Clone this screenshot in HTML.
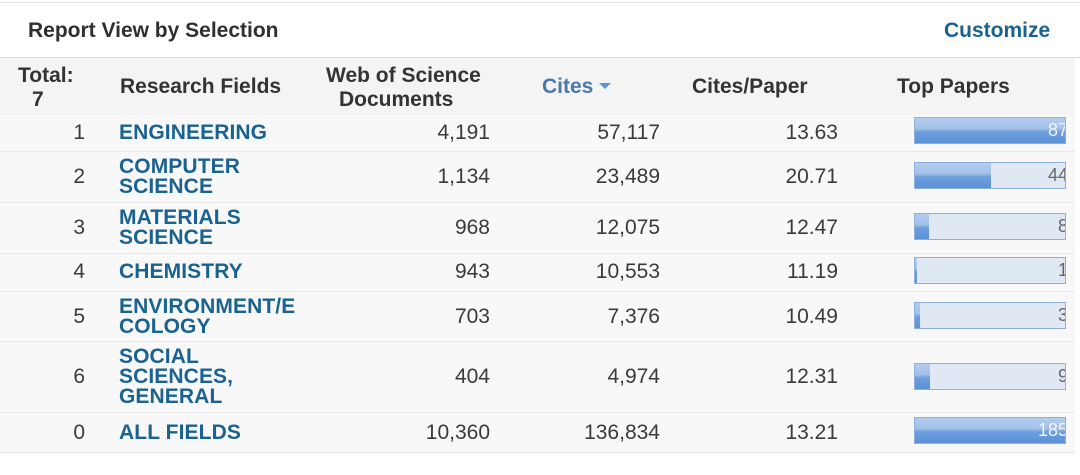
<!DOCTYPE html>
<html>
<head>
<meta charset="utf-8">
<style>
  html,body{margin:0;padding:0;}
  body{width:1080px;height:475px;position:relative;background:#fff;overflow:hidden;
       font-family:"Liberation Sans",Arial,sans-serif;color:#333;}
  .abs{position:absolute;white-space:nowrap;}
  .hd{font-weight:bold;font-size:21px;line-height:24px;color:#333;}
  .f{font-weight:bold;font-size:21px;line-height:20px;color:#1a6290;left:119px;letter-spacing:0.1px;}
  .n{font-size:21px;line-height:20px;color:#3a3a3a;text-align:right;}
  .line{position:absolute;left:0;height:1px;background:#e8e8e8;width:1075px;}
  .bar{position:absolute;left:914px;width:152px;height:27px;box-sizing:border-box;
       border:1px solid #8db0dd;background:#dfe8f3;overflow:hidden;}
  .fill{position:absolute;left:0;top:0;bottom:0;
        background:linear-gradient(#b3cdee 0%,#a3c1e9 42%,#6e9fde 55%,#5b91d7 100%);}
  .bn{position:absolute;right:-3px;top:0;line-height:25px;font-size:18px;color:#666;}
  .bn.w{color:#f2f6fc;}
</style>
</head>
<body>
  <!-- top border -->
  <div class="abs" style="left:0;top:2px;width:1080px;height:1px;background:#e3e3e3;"></div>
  <!-- title -->
  <div class="abs" style="left:28px;top:19px;font-size:21px;line-height:24px;font-weight:bold;color:#2f2f2f;">Report View by Selection</div>
  <div class="abs" style="left:944px;top:19px;font-size:21px;line-height:24px;font-weight:bold;color:#1a6290;">Customize</div>
  <div class="abs" style="left:0;top:57px;width:1080px;height:1px;background:#dadada;"></div>

  <!-- header bg -->
  <div class="abs" style="left:0;top:58px;width:1075px;height:57px;background:#f4f4f4;"></div>
  <!-- rows bg -->
  <div class="abs" style="left:0;top:115px;width:1075px;height:338px;background:#f8f8f8;"></div>

  <!-- header text -->
  <div class="abs hd" style="left:18px;top:64px;">Total:</div>
  <div class="abs hd" style="left:32px;top:88px;">7</div>
  <div class="abs hd" style="left:120px;top:75px;">Research Fields</div>
  <div class="abs hd" style="left:326px;top:64px;">Web of Science</div>
  <div class="abs hd" style="left:339px;top:88px;">Documents</div>
  <div class="abs hd" style="left:542px;top:75px;color:#4a79ab;">Cites</div>
  <div class="abs" style="left:599px;top:83px;width:0;height:0;border-left:6px solid transparent;border-right:6px solid transparent;border-top:6px solid #5f94d2;"></div>
  <div class="abs hd" style="left:692px;top:75px;">Cites/Paper</div>
  <div class="abs hd" style="left:897px;top:75px;">Top Papers</div>

  <!-- row lines -->
  <div class="line" style="top:151px;"></div>
  <div class="line" style="top:202px;"></div>
  <div class="line" style="top:253px;"></div>
  <div class="line" style="top:291px;"></div>
  <div class="line" style="top:341px;"></div>
  <div class="line" style="top:412px;"></div>
  <div class="line" style="top:452px;background:#e3e3e3;"></div>

  <!-- Row 1 -->
  <div class="abs n" style="right:995px;top:123px;">1</div>
  <div class="abs f" style="top:123px;">ENGINEERING</div>
  <div class="abs n" style="right:590px;top:123px;">4,191</div>
  <div class="abs n" style="right:420px;top:123px;">57,117</div>
  <div class="abs n" style="right:242px;top:123px;">13.63</div>
  <div class="bar" style="top:117px;"><div class="fill" style="width:100%;"></div><div class="bn w">87</div></div>

  <!-- Row 2 -->
  <div class="abs n" style="right:995px;top:167px;">2</div>
  <div class="abs f" style="top:157px;">COMPUTER<br>SCIENCE</div>
  <div class="abs n" style="right:590px;top:167px;">1,134</div>
  <div class="abs n" style="right:420px;top:167px;">23,489</div>
  <div class="abs n" style="right:242px;top:167px;">20.71</div>
  <div class="bar" style="top:162px;"><div class="fill" style="width:76px;"></div><div class="bn">44</div></div>

  <!-- Row 3 -->
  <div class="abs n" style="right:995px;top:218px;">3</div>
  <div class="abs f" style="top:208px;">MATERIALS<br>SCIENCE</div>
  <div class="abs n" style="right:590px;top:218px;">968</div>
  <div class="abs n" style="right:420px;top:218px;">12,075</div>
  <div class="abs n" style="right:242px;top:218px;">12.47</div>
  <div class="bar" style="top:213px;"><div class="fill" style="width:14px;"></div><div class="bn">8</div></div>

  <!-- Row 4 -->
  <div class="abs n" style="right:995px;top:262px;">4</div>
  <div class="abs f" style="top:262px;">CHEMISTRY</div>
  <div class="abs n" style="right:590px;top:262px;">943</div>
  <div class="abs n" style="right:420px;top:262px;">10,553</div>
  <div class="abs n" style="right:242px;top:262px;">11.19</div>
  <div class="bar" style="top:257px;"><div class="fill" style="width:2px;"></div><div class="bn">1</div></div>

  <!-- Row 5 -->
  <div class="abs n" style="right:995px;top:307px;">5</div>
  <div class="abs f" style="top:297px;">ENVIRONMENT/E<br>COLOGY</div>
  <div class="abs n" style="right:590px;top:307px;">703</div>
  <div class="abs n" style="right:420px;top:307px;">7,376</div>
  <div class="abs n" style="right:242px;top:307px;">10.49</div>
  <div class="bar" style="top:302px;"><div class="fill" style="width:5px;"></div><div class="bn">3</div></div>

  <!-- Row 6 -->
  <div class="abs n" style="right:995px;top:367px;">6</div>
  <div class="abs f" style="top:347px;">SOCIAL<br>SCIENCES,<br>GENERAL</div>
  <div class="abs n" style="right:590px;top:367px;">404</div>
  <div class="abs n" style="right:420px;top:367px;">4,974</div>
  <div class="abs n" style="right:242px;top:367px;">12.31</div>
  <div class="bar" style="top:363px;"><div class="fill" style="width:15px;"></div><div class="bn">9</div></div>

  <!-- Row 7 -->
  <div class="abs n" style="right:995px;top:423px;">0</div>
  <div class="abs f" style="top:423px;">ALL FIELDS</div>
  <div class="abs n" style="right:590px;top:423px;">10,360</div>
  <div class="abs n" style="right:420px;top:423px;">136,834</div>
  <div class="abs n" style="right:242px;top:423px;">13.21</div>
  <div class="bar" style="top:417px;"><div class="fill" style="width:100%;"></div><div class="bn w">185</div></div>
</body>
</html>
